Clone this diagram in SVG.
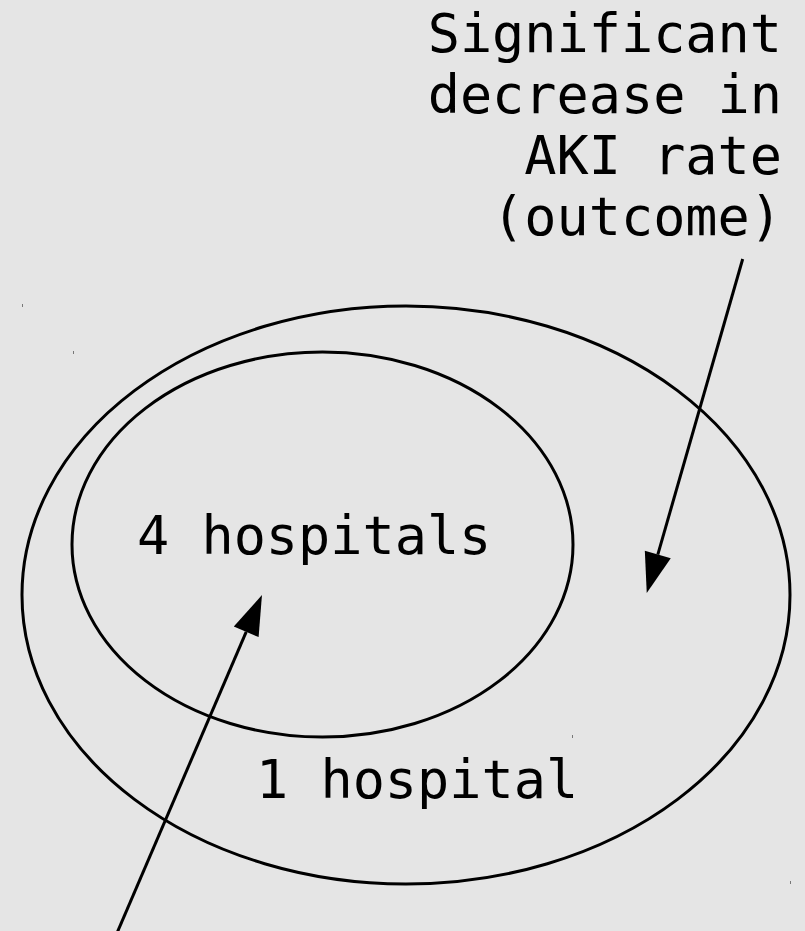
<svg xmlns="http://www.w3.org/2000/svg" width="805" height="931" viewBox="0 0 805 931">
  <style>
    .shape { fill: none; stroke: #000; stroke-width: 3; }
    .edge { fill: none; stroke: #000; stroke-width: 3; }
    .label { font-family: "DejaVu Sans Mono", "Liberation Mono", monospace; font-size: 53.5px; fill: #000; }
    .end { text-anchor: end; }
    .speck { fill: #777; }
  </style>
  <defs>
    <marker id="arrow" markerUnits="userSpaceOnUse" markerWidth="42" markerHeight="30" refX="0" refY="13.5" orient="auto" overflow="visible">
      <path d="M0,0 L40,13.5 L0,27 Z" fill="#000"/>
    </marker>
  </defs>
  <rect width="805" height="931" fill="#e5e5e5"/>

  <g id="outer-region">
    <ellipse class="shape" cx="406" cy="595" rx="384" ry="289"/>
    <text class="label" x="256" y="798">1 hospital</text>
  </g>

  <g id="inner-region">
    <ellipse class="shape" cx="322.5" cy="544.5" rx="250.5" ry="192.5"/>
    <text class="label" x="137" y="554">4 hospitals</text>
  </g>

  <g id="outcome-label">
    <text class="label end" x="782" y="51.5">Significant</text>
    <text class="label end" x="782" y="112.5">decrease in</text>
    <text class="label end" x="782" y="174">AKI rate</text>
    <text class="label end" x="782" y="234.5">(outcome)</text>
  </g>

  <g id="connectors">
    <line class="edge" x1="742.7" y1="259" x2="657.8" y2="554.6" marker-end="url(#arrow)"/>
    <line class="edge" x1="114" y1="940" x2="246.2" y2="631.8" marker-end="url(#arrow)"/>
  </g>

  <g id="specks">
    <rect class="speck" x="22" y="304" width="1" height="3"/>
    <rect class="speck" x="73" y="351" width="1" height="3"/>
    <rect class="speck" x="572" y="735" width="1" height="3"/>
    <rect class="speck" x="790" y="881" width="1" height="3"/>
  </g>
</svg>
